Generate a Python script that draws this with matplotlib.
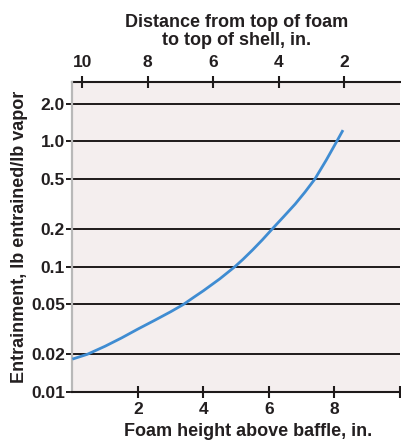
import matplotlib
matplotlib.use("Agg")
import matplotlib.pyplot as plt
from matplotlib.ticker import FixedLocator, NullLocator

# Data
foam_height = [0.0, 0.456, 1.0, 1.5, 2.0, 2.5, 3.0, 3.39, 3.7, 4.0, 4.5, 4.96, 5.2, 5.5,
               5.8, 6.1, 6.45, 6.8, 7.1, 7.4, 7.75, 8.07, 8.26]
entrainment = [0.0183, 0.020, 0.0232, 0.0270, 0.0318, 0.0372, 0.0437, 0.050, 0.0569, 0.0643,
               0.0800, 0.100, 0.114, 0.136, 0.164, 0.200, 0.251, 0.316, 0.394, 0.500,
               0.710, 1.00, 1.23]

y_ticks = [0.01, 0.02, 0.05, 0.1, 0.2, 0.5, 1.0, 2.0]
y_tick_labels = ["0.01", "0.02", "0.05", "0.1", "0.2", "0.5", "1.0", "2.0"]
x_ticks = [2, 4, 6, 8, 10]
x_tick_labels = ["2", "4", "6", "8", ""]
top_ticks = [10, 8, 6, 4, 2]
top_tick_labels = ["10", "8", "6", "4", "2"]
total_depth = 10.3

plt.rcParams['font.family'] = ['Liberation Sans', 'DejaVu Sans']
plt.rcParams['font.weight'] = 'bold'
txt = '#231f20'

W, H = 401, 441
fig = plt.figure(figsize=(W / 100, H / 100), dpi=100)
left, right = 72.4 / W, 400 / W
bottom, top = (H - 392) / H, (H - 82.5) / H
ax = fig.add_axes([left, bottom, right - left, top - bottom])
ax.set_facecolor('#f4eeee')

ax.plot(foam_height, entrainment, color='#3f8cd2', lw=2.0, solid_capstyle='butt',
        solid_joinstyle='round', zorder=3)

ax.set_yscale('log')
ax.set_xlim(0, 10)
ax.set_ylim(0.01, 2.95)

ax.yaxis.set_major_locator(FixedLocator(y_ticks))
ax.yaxis.set_minor_locator(NullLocator())
ax.set_yticklabels(y_tick_labels)
ax.xaxis.set_major_locator(FixedLocator(x_ticks))
ax.xaxis.set_minor_locator(NullLocator())
ax.set_xticklabels(x_tick_labels)

ax.grid(axis='y', color='#1e1a1a', lw=1.4)
ax.set_axisbelow(True)

ax.tick_params(axis='y', direction='out', length=4, width=1.4, color='#1e1a1a',
               labelsize=12.5, labelcolor=txt, pad=1.5)
ax.tick_params(axis='x', direction='inout', length=8, width=1.5, color='#1e1a1a',
               labelsize=12.5, labelcolor=txt, pad=3)

for s in ['right', 'top']:
    ax.spines[s].set_visible(False)
ax.spines['left'].set_color('#b8b8b8')
ax.spines['left'].set_linewidth(1.6)
ax.spines['bottom'].set_color('#1e1a1a')
ax.spines['bottom'].set_linewidth(1.5)

sec = ax.secondary_xaxis('top', functions=(lambda h: total_depth - h, lambda d: total_depth - d))
sec.xaxis.set_major_locator(FixedLocator(top_ticks))
sec.xaxis.set_minor_locator(NullLocator())
sec.set_xticklabels(top_tick_labels)
sec.tick_params(axis='x', direction='inout', length=8, width=1.5, color='#1e1a1a',
                labelsize=12.5, labelcolor=txt, pad=5)
sec.spines['top'].set_color('#1e1a1a')
sec.spines['top'].set_linewidth(1.5)
sec.set_xlabel("Distance from top of foam\nto top of shell, in.", fontsize=13,
               fontweight='bold', color=txt, labelpad=7, linespacing=1.1)

ax.set_xlabel("Foam height above baffle, in.", fontsize=13, fontweight='bold', color=txt)
ax.xaxis.set_label_coords(0.535, -0.1)
ax.set_ylabel("Entrainment, lb entrained/lb vapor", fontsize=13, fontweight='bold', color=txt)
ax.yaxis.set_label_coords(-0.135, 0.5)

fig.savefig("out.png", dpi=100)
